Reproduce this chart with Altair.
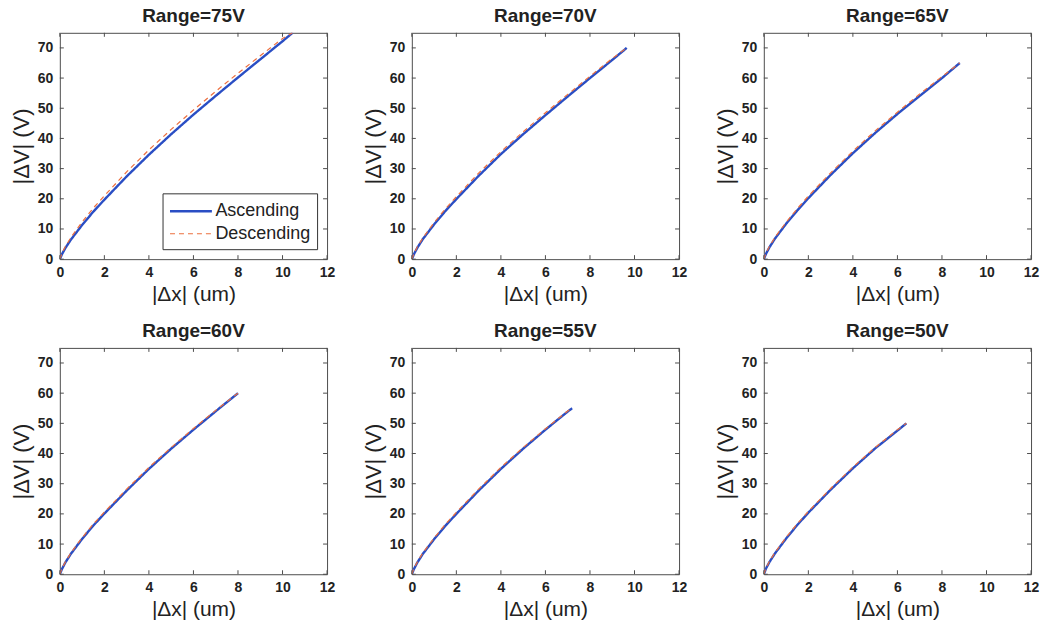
import altair as alt
import pandas as pd

# ---------------- data ----------------
RANGES = [75, 70, 65, 60, 55, 50]
SERIES = ["Ascending", "Descending"]

X_75 = [0, 0.1, 0.25, 0.5, 1, 1.5, 2, 3, 4, 5, 6, 7, 8, 9, 10, 10.45]
ASC_75 = [0, 1.7, 3.7, 6.5, 11.3, 15.7, 19.7, 27.4, 34.6, 41.4, 47.9, 54.1, 60.2, 66.2, 72.2, 75.0]
DESC_75 = [0, 2.0, 4.2, 7.2, 12.3, 16.9, 21.0, 28.9, 36.2, 43.0, 49.4, 55.6, 61.6, 67.4, 73.1, 75.0]

X_70 = [0, 0.1, 0.25, 0.5, 1, 1.5, 2, 3, 4, 5, 6, 7, 8, 9, 9.65]
ASC_70 = [0, 1.7, 3.8, 6.7, 11.5, 15.9, 19.9, 27.6, 34.8, 41.4, 47.7, 53.9, 60.0, 66.0, 70.0]
DESC_70 = [0, 1.9, 4.1, 7.1, 12.1, 16.6, 20.7, 28.5, 35.6, 42.2, 48.5, 54.6, 60.6, 66.5, 70.0]

X_65 = [0, 0.1, 0.25, 0.5, 1, 1.5, 2, 3, 4, 5, 6, 7, 8, 8.8]
ASC_65 = [0, 1.8, 3.9, 6.8, 11.7, 16.1, 20.2, 27.9, 35.1, 41.8, 48.1, 54.1, 60.0, 65.0]
DESC_65 = [0, 2.0, 4.2, 7.2, 12.2, 16.7, 20.9, 28.6, 35.8, 42.5, 48.7, 54.7, 60.5, 65.0]

X_60 = [0, 0.1, 0.25, 0.5, 1, 1.5, 2, 3, 4, 5, 6, 7, 8.0]
ASC_60 = [0, 1.8, 3.9, 6.8, 11.7, 16.1, 20.1, 27.7, 34.9, 41.6, 47.9, 54.0, 60.0]
DESC_60 = [0, 2.0, 4.1, 7.1, 12.1, 16.6, 20.6, 28.2, 35.4, 42.0, 48.3, 54.3, 60.0]

X_55 = [0, 0.1, 0.25, 0.5, 1, 1.5, 2, 3, 4, 5, 6, 7, 7.2]
ASC_55 = [0, 1.8, 3.9, 6.8, 11.6, 16.0, 20.0, 27.7, 34.9, 41.6, 47.9, 53.9, 55.0]
DESC_55 = [0, 2.0, 4.1, 7.1, 12.0, 16.5, 20.5, 28.2, 35.4, 42.0, 48.2, 54.1, 55.0]

X_50 = [0, 0.1, 0.25, 0.5, 1, 1.5, 2, 3, 4, 5, 6, 6.4]
ASC_50 = [0, 1.9, 4.0, 6.9, 11.8, 16.3, 20.4, 28.0, 35.1, 41.7, 47.6, 50.0]
DESC_50 = [0, 2.1, 4.2, 7.2, 12.2, 16.7, 20.8, 28.4, 35.5, 42.0, 47.9, 50.0]

XTICKS = [0, 2, 4, 6, 8, 10, 12]
YTICKS = [0, 10, 20, 30, 40, 50, 60, 70]

PANEL_DATA = {
    75: (X_75, ASC_75, DESC_75),
    70: (X_70, ASC_70, DESC_70),
    65: (X_65, ASC_65, DESC_65),
    60: (X_60, ASC_60, DESC_60),
    55: (X_55, ASC_55, DESC_55),
    50: (X_50, ASC_50, DESC_50),
}

# ---------------- styling ----------------
W, H = 268, 227
BLUE = "#2a4ec4"
ORANGE = "#ec6f3e"
TXT = "#222222"
BOX = "#4d4d4d"
FONT = "Liberation Sans"

rows = []
for r in RANGES:
    xs, asc, desc = PANEL_DATA[r]
    for x, v in zip(xs, asc):
        rows.append({"panel": r, "x": x, "v": v, "series": "Ascending"})
    for x, v in zip(xs, desc):
        rows.append({"panel": r, "x": x, "v": v, "series": "Descending"})
df = pd.DataFrame(rows)

xt = pd.DataFrame({"x": XTICKS})
yt = pd.DataFrame({"v": YTICKS})

xscale = alt.Scale(domain=[0, 12], nice=False, zero=False)
yscale = alt.Scale(domain=[0, 75], nice=False, zero=False)

xaxis = alt.Axis(
    values=XTICKS, tickSize=0, domain=False, grid=False, labelFlush=False, labelOverlap=False,
    labelFont=FONT, labelFontSize=14, labelFontWeight="bold", labelColor=TXT, labelPadding=6,
    title="|Δx| (um)", titleFont=FONT, titleFontSize=21, titleFontWeight="normal",
    titleColor=TXT, titlePadding=4)
yaxis = alt.Axis(
    values=YTICKS, tickSize=0, domain=False, grid=False, labelFlush=False, labelOverlap=False,
    labelFont=FONT, labelFontSize=14, labelFontWeight="bold", labelColor=TXT, labelPadding=7,
    title="|ΔV| (V)", titleFont=FONT, titleFontSize=22, titleFontWeight="normal",
    titleColor=TXT, titlePadding=4)


def panel(r, show_legend):
    d = df[df["panel"] == r]
    if show_legend:
        leg = alt.Legend(
            orient="none", legendX=103, legendY=161, title=None,
            symbolType="M-1,0H3", symbolSize=441,
            labelFont=FONT, labelFontSize=18, labelColor=TXT,
            labelOffset=23, rowPadding=2, padding=6,
            strokeColor="#333333", fillColor="white",
        )
    else:
        leg = None
    lines = alt.Chart(d).mark_line(clip=True).encode(
        x=alt.X("x:Q", scale=xscale, axis=xaxis),
        y=alt.Y("v:Q", scale=yscale, axis=yaxis),
        order=alt.Order("x:Q"),
        color=alt.Color("series:N", scale=alt.Scale(domain=SERIES, range=[BLUE, ORANGE]), legend=leg),
        strokeDash=alt.StrokeDash("series:N", scale=alt.Scale(domain=SERIES, range=[[1, 0], [5, 4]]), legend=leg),
        strokeWidth=alt.StrokeWidth("series:N", scale=alt.Scale(domain=SERIES, range=[2.4, 1.2]), legend=leg),
    )
    tb = alt.Chart(xt).mark_rule(color=BOX, strokeWidth=1).encode(
        x=alt.X("x:Q", scale=xscale, axis=xaxis), y=alt.value(H), y2=alt.value(H - 4))
    tt = alt.Chart(xt).mark_rule(color=BOX, strokeWidth=1).encode(
        x=alt.X("x:Q", scale=xscale, axis=xaxis), y=alt.value(0), y2=alt.value(4))
    tl = alt.Chart(yt).mark_rule(color=BOX, strokeWidth=1).encode(
        y=alt.Y("v:Q", scale=yscale, axis=yaxis), x=alt.value(0), x2=alt.value(4))
    tr = alt.Chart(yt).mark_rule(color=BOX, strokeWidth=1).encode(
        y=alt.Y("v:Q", scale=yscale, axis=yaxis), x=alt.value(W), x2=alt.value(W - 4))
    return alt.layer(lines, tb, tt, tl, tr).properties(
        width=W, height=H,
        title=alt.TitleParams(f"Range={r}V", font=FONT, fontSize=19, fontWeight="bold",
                              color=TXT, offset=6),
    )


panels = [panel(r, i == 0) for i, r in enumerate(RANGES)]

chart = alt.concat(*panels, columns=3, spacing={"row": 89, "column": 85}, bounds="flush").resolve_scale(
    color="independent", strokeDash="independent", strokeWidth="independent"
).resolve_legend(
    color="independent", strokeDash="independent", strokeWidth="independent"
).properties(
    padding={"left": 9, "top": 6, "right": 5, "bottom": 5},
    background="white",
).configure_view(stroke=BOX, strokeWidth=1)

chart.save("out.html", embed_options={"renderer": "svg", "actions": False})
